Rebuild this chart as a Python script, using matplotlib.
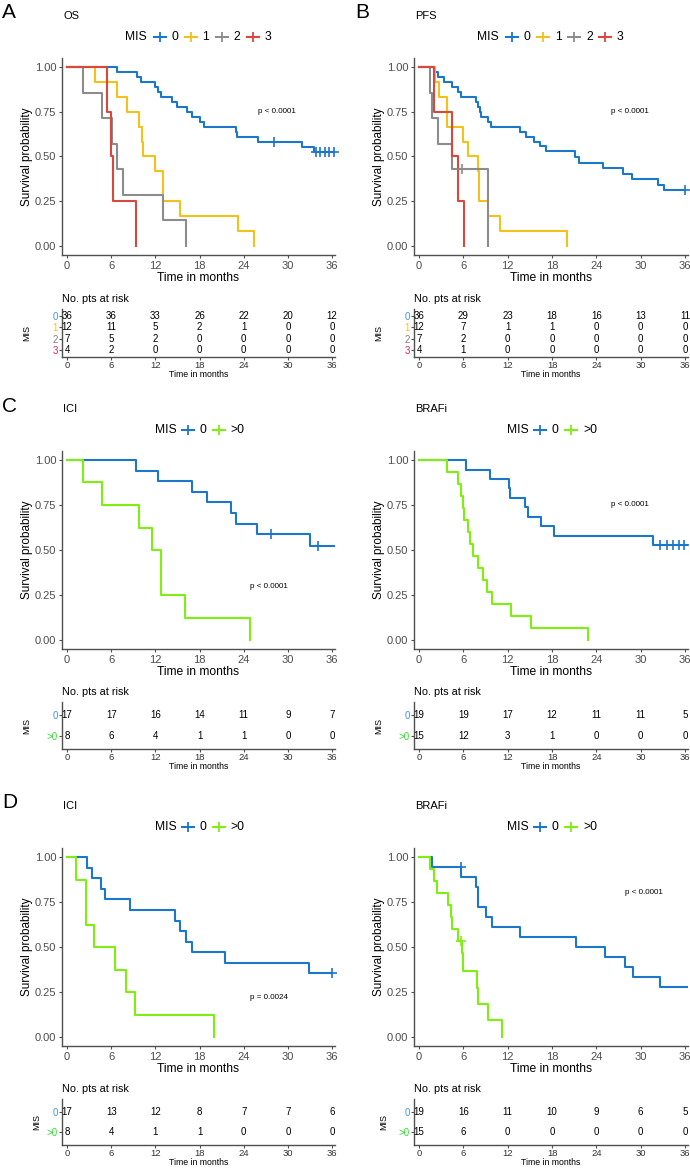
import matplotlib
matplotlib.use("Agg")
import matplotlib.pyplot as plt
from matplotlib.lines import Line2D

plt.rcParams['font.family'] = ['Liberation Sans', 'DejaVu Sans']

# ---------------- data ----------------
time_ticks = [0, 6, 12, 18, 24, 30, 36]
y_ticks = [0.0, 0.25, 0.50, 0.75, 1.00]
y_tick_labels = ["0.00", "0.25", "0.50", "0.75", "1.00"]

# Panel A: OS by MIS
os_mis0_t = [0, 6.8, 9.5, 10.0, 12.0, 12.3, 12.8, 14.3, 14.9, 16.3, 17.0, 18.1, 18.6, 22.9, 23.1, 26.0, 31.9, 33.5, 36.4]
os_mis0_s = [1.0, .972, .944, .917, .889, .861, .833, .806, .778, .750, .722, .694, .667, .639, .611, .583, .554, .525, .525]
os_mis0_cens = [28.1, 33.8, 34.4, 35.0, 35.6, 36.2]
os_mis1_t = [0, 3.85, 6.8, 8.15, 9.7, 10.2, 10.3, 11.9, 13.0, 13.05, 15.3, 23.2, 25.4]
os_mis1_s = [1.0, .917, .833, .750, .667, .583, .500, .417, .333, .250, .167, .083, 0.0]
os_mis2_t = [0, 2.2, 4.75, 6.1, 6.8, 7.6, 13.0, 16.2]
os_mis2_s = [1.0, .857, .714, .571, .429, .286, .143, 0.0]
os_mis3_t = [0, 5.35, 5.9, 6.25, 9.4]
os_mis3_s = [1.0, .75, .50, .25, 0.0]
os_risk_mis0 = [36, 36, 33, 26, 22, 20, 12]
os_risk_mis1 = [12, 11, 5, 2, 1, 0, 0]
os_risk_mis2 = [7, 5, 2, 0, 0, 0, 0]
os_risk_mis3 = [4, 2, 0, 0, 0, 0, 0]

# Panel B: PFS by MIS
pfs_mis0_t = [0, 2.0, 2.5, 3.4, 4.5, 5.2, 5.7, 7.7, 7.9, 8.2, 8.4, 9.3, 9.7, 13.6, 14.5, 15.6, 16.3, 17.2,
              21.1, 21.6, 24.9, 27.6, 28.8, 32.4, 33.1, 36.0]
pfs_mis0_s = [1.0, .972, .944, .917, .889, .861, .833, .806, .778, .750, .722, .694, .667, .639, .611, .583, .556, .528,
              .497, .466, .435, .404, .373, .342, .311, .311]
pfs_mis0_cens = [36.0]
pfs_mis1_t = [0, 2.1, 2.7, 3.76, 5.9, 6.6, 7.9, 8.1, 9.3, 11.0, 20.0]
pfs_mis1_s = [1.0, .917, .833, .667, .583, .500, .417, .250, .167, .083, 0.0]
pfs_mis2_t = [0, 1.4, 1.7, 2.5, 4.4, 9.3]
pfs_mis2_s = [1.0, .857, .714, .571, .429, 0.0]
pfs_mis2_cens = [5.8]
pfs_mis3_t = [0, 1.95, 4.4, 5.2, 6.1]
pfs_mis3_s = [1.0, .75, .50, .25, 0.0]
pfs_risk_mis0 = [36, 29, 23, 18, 16, 13, 11]
pfs_risk_mis1 = [12, 7, 1, 1, 0, 0, 0]
pfs_risk_mis2 = [7, 2, 0, 0, 0, 0, 0]
pfs_risk_mis3 = [4, 1, 0, 0, 0, 0, 0]

# Panel C: OS, ICI / BRAFi
ici_os_0_t = [0, 9.4, 12.4, 17.0, 19.0, 22.3, 22.9, 25.8, 33.0, 36.4]
ici_os_0_s = [1.0, .941, .882, .824, .765, .706, .647, .588, .523, .523]
ici_os_0_cens = [27.7, 34.1]
ici_os_1_t = [0, 2.1, 4.7, 9.7, 11.5, 12.7, 12.8, 16.0, 24.9]
ici_os_1_s = [1.0, .875, .750, .625, .500, .375, .250, .125, 0.0]
ici_os_risk_0 = [17, 17, 16, 14, 11, 9, 7]
ici_os_risk_1 = [8, 6, 4, 1, 1, 0, 0]

braf_os_0_t = [0, 6.4, 9.6, 12.1, 12.3, 14.3, 14.7, 16.5, 18.2, 31.6, 36.4]
braf_os_0_s = [1.0, .947, .895, .842, .789, .737, .684, .632, .579, .526, .526]
braf_os_0_cens = [32.6, 33.5, 34.4, 35.2, 35.9]
braf_os_1_t = [0, 3.75, 5.2, 5.7, 6.0, 6.05, 6.6, 6.85, 7.3, 8.0, 8.6, 9.2, 9.8, 12.5, 15.1, 22.8]
braf_os_1_s = [1.0, .933, .867, .800, .733, .667, .600, .533, .467, .400, .333, .267, .200, .133, .067, 0.0]
braf_os_risk_0 = [19, 19, 17, 12, 11, 11, 5]
braf_os_risk_1 = [15, 12, 3, 1, 0, 0, 0]

# Panel D: PFS, ICI / BRAFi
ici_pfs_0_t = [0, 2.7, 3.4, 4.6, 5.2, 8.5, 14.6, 15.3, 16.2, 17.0, 21.5, 32.9, 36.0]
ici_pfs_0_s = [1.0, .941, .882, .824, .765, .706, .647, .588, .529, .471, .412, .353, .353]
ici_pfs_0_cens = [36.0]
ici_pfs_1_t = [0, 1.25, 2.5, 3.6, 6.5, 8.0, 9.2, 19.9]
ici_pfs_1_s = [1.0, .875, .625, .500, .375, .250, .125, 0.0]
ici_pfs_risk_0 = [17, 13, 12, 8, 7, 7, 6]
ici_pfs_risk_1 = [8, 4, 1, 1, 0, 0, 0]

braf_pfs_0_t = [0, 1.8, 5.7, 7.7, 8.0, 9.1, 9.8, 13.6, 21.2, 25.2, 27.9, 28.9, 32.6, 36.4]
braf_pfs_0_s = [1.0, .947, .891, .836, .724, .669, .613, .557, .502, .446, .390, .334, .279, .279]
braf_pfs_0_cens = [5.6]
braf_pfs_1_t = [0, 1.5, 2.0, 2.4, 3.9, 4.3, 4.5, 5.2, 5.75, 6.0, 7.8, 8.0, 9.3, 11.2]
braf_pfs_1_s = [1.0, .933, .867, .800, .733, .667, .600, .533, .467, .367, .275, .183, .092, 0.0]
braf_pfs_1_cens = [5.6]
braf_pfs_risk_0 = [19, 16, 11, 10, 9, 6, 5]
braf_pfs_risk_1 = [15, 6, 0, 0, 0, 0, 0]

groups4 = ["0", "1", "2", "3"]
groups2 = ["0", ">0"]
colors4 = ["#1C76C9", "#F2C21B", "#8C8C8C", "#D9473E"]
colors2 = ["#1C76C9", "#7FEF12"]
rowcol4 = ["#3A97F0", "#F2C21B", "#808080", "#E0245E"]
rowcol2 = ["#3A97F0", "#2EE02E"]

# ---------------- drawing ----------------
W, H = 690, 1169
fig = plt.figure(figsize=(W / 100, H / 100), dpi=100)
fig.patch.set_facecolor("white")


def fx(x):
    return x / W


def fy(y):
    return 1 - y / H


def add_axes_px(l, t, r, b):
    return fig.add_axes([fx(l), fy(b), (r - l) / W, (b - t) / H])


def ftext(x, y, s, **kw):
    kw.setdefault("va", "center")
    fig.text(fx(x), fy(y), s, **kw)


def surv_at(t, s, c):
    val = s[0]
    for ti, si in zip(t, s):
        if ti <= c:
            val = si
    return val


def style_axes(ax, tick_col, fs, pad=1.5):
    for sp in ["top", "right"]:
        ax.spines[sp].set_visible(False)
    for sp in ["left", "bottom"]:
        ax.spines[sp].set_color("#505050")
        ax.spines[sp].set_linewidth(1.0)
    ax.tick_params(axis="both", direction="out", length=2.5, width=0.8, color="#505050",
                   labelcolor=tick_col, labelsize=fs, pad=pad)


def draw_legend(cx, y, labels, colors):
    if len(labels) == 4:
        mis_x = cx - 74
        keys = [cx - 39 + 31 * i for i in range(4)]
    else:
        mis_x = cx - 44
        keys = [cx - 11, cx + 20]
    ftext(mis_x, y, "MIS", fontsize=8.7, ha="left")
    for k, lab, col in zip(keys, labels, colors):
        fig.add_artist(Line2D([fx(k - 6), fx(k + 6)], [fy(y), fy(y)], color=col, lw=1.5,
                              transform=fig.transFigure))
        fig.add_artist(Line2D([fx(k)], [fy(y)], marker="+", ms=7, mew=1.3, color=col,
                              transform=fig.transFigure))
        ftext(k + 12, y, lab, fontsize=8.7, ha="left")


def draw_panel(letter, title, box, rbox, curves, censors, labels, colors, rowcols, risk,
               pval, pxy, mis_dx=35):
    l, t, r, b = box
    ax = add_axes_px(l, t, r, b)
    for (tt, ss), col in zip(curves, colors):
        ax.step(tt, ss, where="post", color=col, lw=1.5)
    for (tt, ss), cens, col in zip(curves, censors, colors):
        if cens:
            ax.plot(cens, [surv_at(tt, ss, c) for c in cens], ls="none", marker="+", ms=7,
                    mew=1.2, color=col, clip_on=False)
    ax.set_xlim(-0.7, 36.4)
    ax.set_ylim(-0.05, 1.05)
    ax.set_xticks(time_ticks)
    ax.set_yticks(y_ticks)
    ax.set_yticklabels(y_tick_labels)
    style_axes(ax, "#4D4D4D", 8)
    ax.text(pxy[0], pxy[1], pval, fontsize=5.8, ha="center", va="center")

    cx = (l + r) / 2
    if letter:
        ftext(letter[1], t - 45, letter[0], fontsize=15, ha="left")
    ftext(l + 1, t - 42, title, fontsize=8, ha="left")
    draw_legend(cx, t - 21, labels, colors)
    ftext(l - 35, (t + b) / 2, "Survival probability", fontsize=8.5, rotation=90, ha="center")
    ftext(cx, b + 23, "Time in months", fontsize=8.7, ha="center")

    # risk table
    rl, rt, rr, rb = rbox
    rax = add_axes_px(rl, rt, rr, rb)
    n = len(risk)
    for i, row in enumerate(risk):
        pos = n - 1 - i
        for tx, v in zip(time_ticks, row):
            rax.text(tx, pos, str(v), ha="center", va="center", fontsize=7)
    rax.set_xlim(-0.7, 36.4)
    rax.set_ylim(-0.6, n - 1 + 0.6)
    rax.set_xticks(time_ticks)
    rax.set_yticks(list(range(n)))
    rax.set_yticklabels(list(reversed(labels)))
    style_axes(rax, "#333333", 6.8, pad=0.6)
    for tl, col in zip(rax.get_yticklabels(), list(reversed(rowcols))):
        tl.set_color(col)
        tl.set_fontsize(7)
    ftext(rl, rt - 10, "No. pts at risk", fontsize=7.8, ha="left")
    ftext(rl - mis_dx, (rt + rb) / 2, "MIS", fontsize=6.5, rotation=90, ha="center")
    ftext((rl + rr) / 2, rb + 17.5, "Time in months", fontsize=6.3, ha="center")


# A
draw_panel(("A", 2), "OS", (62, 58, 335, 255), (62, 309, 335, 357),
           [(os_mis0_t, os_mis0_s), (os_mis1_t, os_mis1_s), (os_mis2_t, os_mis2_s), (os_mis3_t, os_mis3_s)],
           [os_mis0_cens, [], [], []], groups4, colors4, rowcol4,
           [os_risk_mis0, os_risk_mis1, os_risk_mis2, os_risk_mis3],
           "p < 0.0001", (28.5, 0.75))
# B
draw_panel(("B", 355), "PFS", (414, 58, 688, 255), (414, 309, 688, 357),
           [(pfs_mis0_t, pfs_mis0_s), (pfs_mis1_t, pfs_mis1_s), (pfs_mis2_t, pfs_mis2_s), (pfs_mis3_t, pfs_mis3_s)],
           [pfs_mis0_cens, [], pfs_mis2_cens, []], groups4, colors4, rowcol4,
           [pfs_risk_mis0, pfs_risk_mis1, pfs_risk_mis2, pfs_risk_mis3],
           "p < 0.0001", (28.5, 0.75))
# C
draw_panel(("C", 2), "ICI", (62, 451, 335, 649), (62, 702, 335, 749),
           [(ici_os_0_t, ici_os_0_s), (ici_os_1_t, ici_os_1_s)],
           [ici_os_0_cens, []], groups2, colors2, rowcol2,
           [ici_os_risk_0, ici_os_risk_1], "p < 0.0001", (27.4, 0.30))
draw_panel(None, "BRAFi", (414, 451, 688, 649), (414, 702, 688, 749),
           [(braf_os_0_t, braf_os_0_s), (braf_os_1_t, braf_os_1_s)],
           [braf_os_0_cens, []], groups2, colors2, rowcol2,
           [braf_os_risk_0, braf_os_risk_1], "p < 0.0001", (28.5, 0.75))
# D
draw_panel(("D", 2), "ICI", (62, 848, 335, 1046), (62, 1099, 335, 1145),
           [(ici_pfs_0_t, ici_pfs_0_s), (ici_pfs_1_t, ici_pfs_1_s)],
           [ici_pfs_0_cens, []], groups2, colors2, rowcol2,
           [ici_pfs_risk_0, ici_pfs_risk_1], "p = 0.0024", (27.4, 0.22), mis_dx=25)
draw_panel(None, "BRAFi", (414, 848, 688, 1046), (414, 1099, 688, 1145),
           [(braf_pfs_0_t, braf_pfs_0_s), (braf_pfs_1_t, braf_pfs_1_s)],
           [braf_pfs_0_cens, braf_pfs_1_cens], groups2, colors2, rowcol2,
           [braf_pfs_risk_0, braf_pfs_risk_1], "p < 0.0001", (30.5, 0.80), mis_dx=30)

fig.savefig("out.png", dpi=100, facecolor="white")
